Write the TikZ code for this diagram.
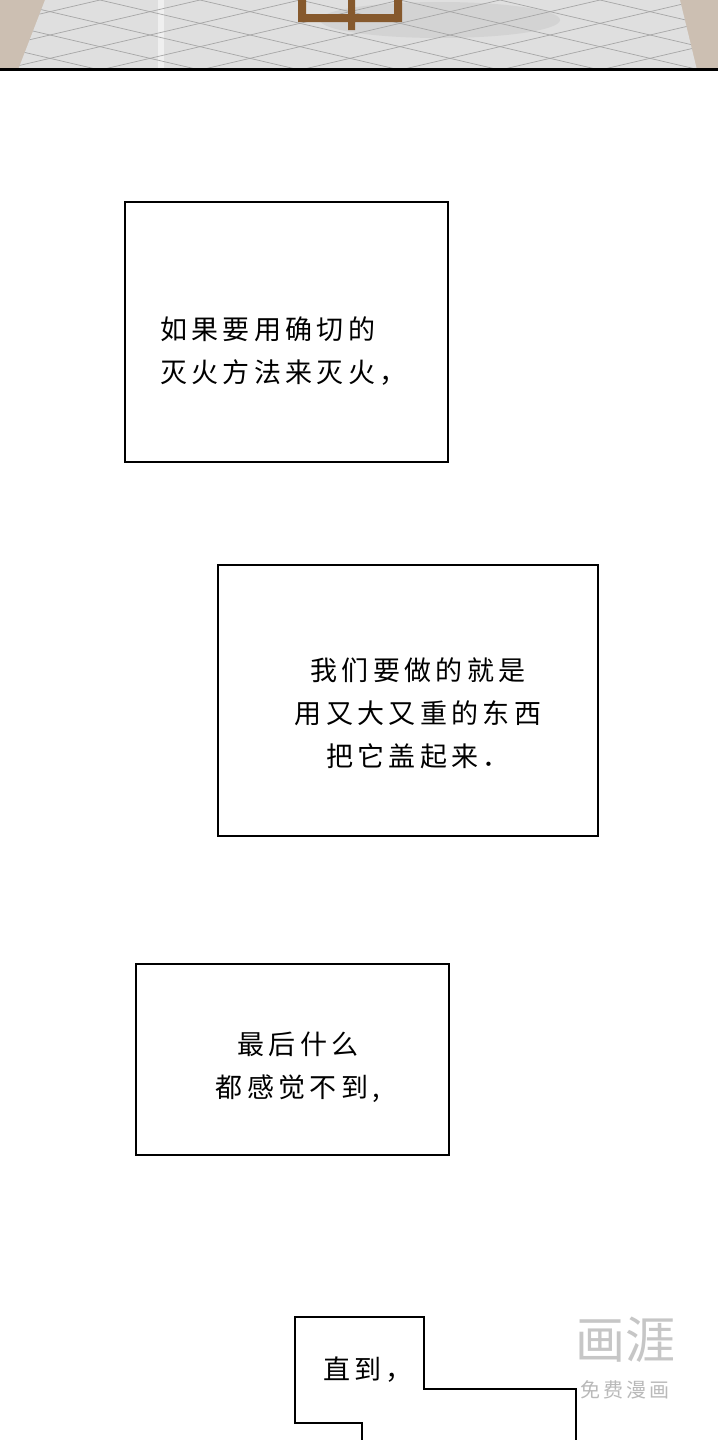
\documentclass[tikz,border=0pt]{standalone}
\usepackage{fontspec}
\newfontfamily\cjk[LetterSpace=16]{Noto Sans CJK SC:style=Bold}
\newfontfamily\cjkb[LetterSpace=0]{Noto Sans CJK SC:style=Bold}
\begin{document}
\begin{tikzpicture}[x=1pt,y=-1pt,
  panel/.style={draw=black,line width=2pt,fill=white},
  txt/.style={font=\cjk\fontsize{27}{43}\selectfont,align=center,inner sep=0pt}]
\useasboundingbox (0,0) rectangle (718,1440);
\fill[white] (0,0) rectangle (718,1440);
% top strip
\fill[gray!60!brown!50!white] (0,0) rectangle (718,69);
\fill[gray!25] (45,0) -- (680,0) -- (697,70) -- (18,70) -- cycle;
\fill[gray!40,opacity=.6] (440,20) ellipse (120 and 18);
\fill[white,opacity=.5] (158,0) rectangle (164,68);
\begin{scope}
\clip (45,0) -- (680,0) -- (697,70) -- (18,70) -- cycle;
\foreach \i in {-600,-500,...,800} {
  \draw[gray!70,line width=.7pt] (\i,0) -- (\i+300,70);
  \draw[gray!70,line width=.7pt] (\i+300,0) -- (\i,70);
}
\end{scope}
\draw[gray!70,line width=1pt] (18,70) -- (697,70);
\fill[brown!70!black] (298,0) rectangle (306,22) (306,14) rectangle (400,22) (394,0) rectangle (402,22) (348,0) rectangle (355,30);
\fill[black] (0,68) rectangle (718,71);
% panel 1
\node[panel,minimum width=323,minimum height=260,anchor=north west] (p1) at (124,201) {};
\node[txt,align=left,anchor=west] (t1) at (160,351) {如果要用确切的\\灭火方法来灭火，};
% panel 2
\node[panel,minimum width=380,minimum height=271,anchor=north west] (p2) at (217,564) {};
\node[txt] (t2) at (418,713) {我们要做的就是\\用又大又重的东西\\把它盖起来．};
% panel 3
\node[panel,minimum width=313,minimum height=191,anchor=north west] (p3) at (135,963) {};
\node[txt] (t3) at (298,1067) {最后什么\\都感觉不到,};
% panel 4
\draw[line width=2pt,fill=white] (362,1441) -- (362,1423) -- (295,1423) -- (295,1317) -- (424,1317) -- (424,1389) -- (576,1389) -- (576,1441);
\node[txt,anchor=west] (t4) at (323,1370) {直到，};
% watermark
\node[font=\cjkb\fontsize{50}{50}\selectfont,text=gray!45,inner sep=0pt] (w1) at (625,1340) {画涯};
\node[font=\cjk\fontsize{20}{20}\selectfont,text=gray!55,inner sep=0pt,anchor=center] (w2) at (625,1390) {免费漫画};
\end{tikzpicture}
\end{document}
